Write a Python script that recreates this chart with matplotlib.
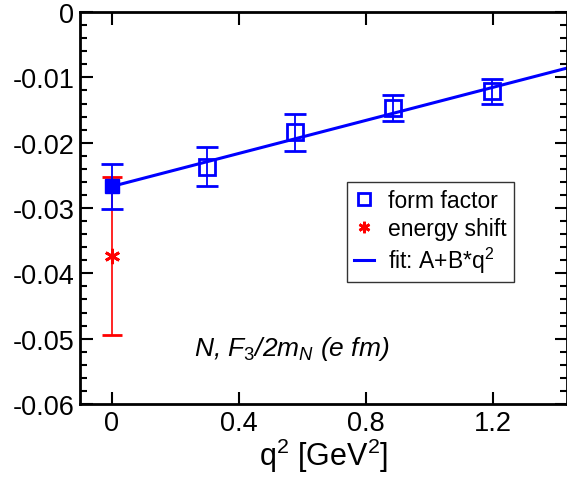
import matplotlib
matplotlib.use("Agg")
import matplotlib.pyplot as plt
from matplotlib.ticker import MultipleLocator

plt.rcParams['font.family'] = ['Liberation Sans', 'DejaVu Sans']
plt.rcParams['mathtext.fontset'] = 'custom'
plt.rcParams['mathtext.rm'] = 'Liberation Sans'
plt.rcParams['mathtext.it'] = 'Liberation Sans:italic'

# form factor points
q2_ff = [0.30, 0.576, 0.885, 1.197]
ff = [-0.0237, -0.0184, -0.0147, -0.0121]
ff_err = [0.0030, 0.0028, 0.0020, 0.0019]

# extrapolated value at q2 = 0
q2_0 = [0.0]
ff_0 = [-0.0267]
ff_0_err = [0.0035]

# energy shift
q2_es = [0.0]
es = [-0.0373]
es_err_lo = [0.0121]
es_err_hi = [0.0121]

# fit A + B*q^2
fit_A = -0.0267
fit_B = 0.01265
fit_x = [0.0, 1.45]

fig = plt.figure(figsize=(5.67, 4.85), dpi=100)
ax = fig.add_axes([0.141, 0.165, 0.859, 0.808])

fit_y = [fit_A + fit_B * x for x in fit_x]
ax.plot(fit_x, fit_y, color='blue', lw=2.2, label='fit: A+B*q$^2$', zorder=2)

ax.errorbar(q2_es, es, yerr=[es_err_lo, es_err_hi], fmt='none', ecolor='red',
            elinewidth=1.2, capsize=7, capthick=2, zorder=3)
ax.plot(q2_es, es, linestyle='none', marker=(6, 2, 0), ms=11, mew=2,
        color='red', label='energy shift', zorder=4)

ax.errorbar(q2_ff, ff, yerr=ff_err, fmt='none', ecolor='blue', elinewidth=1.3,
            capsize=8, capthick=2, zorder=3)
ax.plot(q2_ff, ff, linestyle='none', marker='s', ms=11, mew=2,
        mfc='none', mec='blue', label='form factor', zorder=4)

ax.errorbar(q2_0, ff_0, yerr=ff_0_err, fmt='none', ecolor='blue', elinewidth=1.3,
            capsize=8, capthick=2, zorder=3)
ax.plot(q2_0, ff_0, linestyle='none', marker='s', ms=10, color='blue', zorder=5)

ax.set_xlim(-0.1, 1.433)
ax.set_ylim(-0.06, 0.0)
ax.yaxis.set_minor_locator(MultipleLocator(0.002))
ax.set_xticks([0, 0.4, 0.8, 1.2])
ax.set_xticklabels(['0', '0.4', '0.8', '1.2'])
ax.set_yticks([0, -0.01, -0.02, -0.03, -0.04, -0.05, -0.06])
ax.set_yticklabels(['0', '-0.01', '-0.02', '-0.03', '-0.04', '-0.05', '-0.06'])
ax.tick_params(which='both', direction='in', top=True, right=True, labelsize=19.5, width=1.5)
ax.tick_params(which='major', length=9, pad=4)
ax.tick_params(which='minor', length=5)
for s in ax.spines.values():
    s.set_linewidth(2)

ax.set_xlabel('q$^2$ [GeV$^2$]', fontsize=22, labelpad=0)

ax.text(0.434, 0.143, r'$N$, $F_3$/2$m_N$ ($e$ $fm$)', transform=ax.transAxes,
        fontsize=19, ha='center', va='center', style='italic')

h, l = ax.get_legend_handles_labels()
order = [2, 1, 0]
leg = ax.legend([h[i] for i in order], [l[i] for i in order], loc='upper left',
                bbox_to_anchor=(0.548, 0.566), borderaxespad=0, fontsize=16.5,
                frameon=True, fancybox=False, edgecolor='black', handlelength=0.9,
                handletextpad=0.6, borderpad=0.3, labelspacing=0.22, markerscale=0.75)
leg.get_frame().set_linewidth(1)

fig.savefig('out.png', dpi=100)
